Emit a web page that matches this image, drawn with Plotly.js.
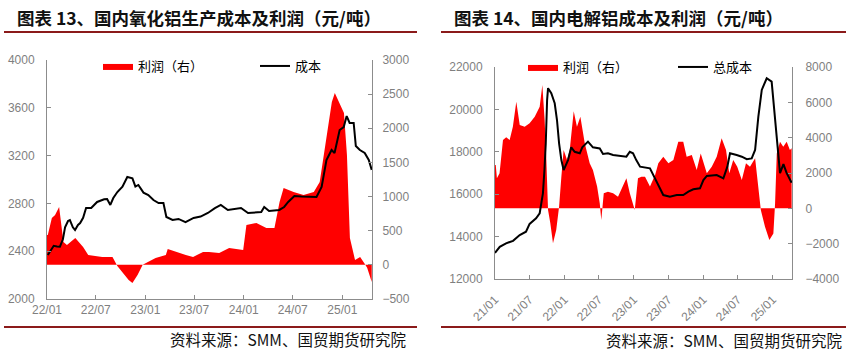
<!DOCTYPE html>
<html>
<head>
<meta charset="utf-8">
<script src="https://cdn.plot.ly/plotly-3.0.1.min.js"></script>
<style>html,body{margin:0;padding:0;background:#fff;}#chart{width:855px;height:357px;}</style>
</head>
<body>
<div id="chart"></div>
<script>
// ---------- Chart 13: alumina cost (left axis) & profit (right axis) ----------
const aluminaCostDates = ["2022-01-04","2022-01-19","2022-01-26","2022-02-07","2022-02-18","2022-03-01","2022-03-09","2022-03-20","2022-03-27","2022-04-07","2022-04-15","2022-04-26","2022-05-04","2022-05-15","2022-05-26","2022-06-14","2022-07-06","2022-08-01","2022-08-12","2022-08-24","2022-09-04","2022-09-19","2022-10-08","2022-10-26","2022-11-14","2022-11-25","2022-12-06","2022-12-25","2023-01-12","2023-01-31","2023-02-19","2023-03-09","2023-03-20","2023-04-12","2023-05-04","2023-05-30","2023-06-29","2023-07-25","2023-08-21","2023-09-16","2023-10-08","2023-11-03","2023-11-29","2023-12-22","2024-01-17","2024-02-16","2024-03-06","2024-03-17","2024-04-04","2024-05-12","2024-05-30","2024-06-14","2024-07-07","2024-08-02","2024-09-08","2024-09-27","2024-10-16","2024-11-03","2024-11-22","2024-12-03","2024-12-22","2025-01-06","2025-01-17","2025-01-28","2025-02-12","2025-02-20","2025-03-07","2025-03-25","2025-04-09","2025-04-17","2025-04-20"];
const aluminaCost = [2368,2420,2445,2440,2438,2500,2600,2653,2661,2600,2578,2620,2636,2680,2762,2762,2812,2835,2837,2787,2845,2895,2940,3021,3010,2940,2954,2890,2870,2828,2803,2803,2686,2661,2670,2644,2678,2690,2720,2760,2787,2745,2755,2762,2720,2725,2728,2770,2737,2745,2770,2812,2862,2858,2855,2854,2937,3163,3247,3222,3414,3439,3531,3473,3473,3280,3247,3222,3163,3105,3080];

const aluminaProfitDates = ["2022-01-01","2022-01-04","2022-01-19","2022-01-31","2022-02-15","2022-02-22","2022-03-03","2022-03-16","2022-04-16","2022-05-15","2022-06-03","2022-07-25","2022-09-01","2022-09-19","2022-10-31","2022-11-14","2022-12-03","2022-12-22","2023-02-08","2023-03-18","2023-03-25","2023-05-31","2023-06-27","2023-08-03","2023-08-25","2023-10-02","2023-11-08","2023-12-30","2024-01-11","2024-02-17","2024-03-25","2024-04-24","2024-05-13","2024-05-28","2024-07-04","2024-08-10","2024-09-17","2024-10-09","2024-10-24","2024-11-04","2024-11-23","2024-12-04","2024-12-19","2025-01-07","2025-01-18","2025-01-29","2025-02-17","2025-03-08","2025-03-23","2025-04-03","2025-04-20"];
const aluminaProfit = [438,438,687,731,848,628,336,292,394,262,145,116,116,-15,-221,-265,-148,0,101,145,233,145,116,189,189,175,248,219,584,614,540,540,921,1126,1068,1024,1068,1214,1609,1946,2385,2517,2385,2224,1609,394,72,116,29,-44,-250];

// ---------- Chart 14: electrolytic aluminium total cost (left axis) & profit (right axis) ----------
const smeltCostDates = ["2021-01-01","2021-01-26","2021-02-28","2021-04-06","2021-05-11","2021-06-13","2021-07-02","2021-08-05","2021-08-24","2021-08-31","2021-09-10","2021-09-18","2021-09-25","2021-10-02","2021-10-07","2021-10-24","2021-11-11","2021-11-23","2021-12-04","2021-12-16","2021-12-28","2022-01-20","2022-02-06","2022-02-24","2022-03-23","2022-04-05","2022-05-05","2022-05-31","2022-07-06","2022-07-23","2022-08-18","2022-09-14","2022-10-19","2022-11-23","2022-12-11","2022-12-28","2023-01-14","2023-02-03","2023-03-27","2023-04-14","2023-05-10","2023-06-05","2023-07-10","2023-08-15","2023-09-18","2023-10-15","2023-11-10","2023-12-15","2024-01-02","2024-01-20","2024-03-12","2024-04-16","2024-05-07","2024-05-21","2024-06-25","2024-07-22","2024-08-17","2024-09-12","2024-09-30","2024-10-17","2024-11-04","2024-11-30","2024-12-26","2025-01-13","2025-01-25","2025-02-08","2025-02-26","2025-03-15","2025-04-10"];
const smeltCost = [13230,13520,13683,13800,14075,14230,14600,14863,15100,15580,16040,17140,18400,20440,21000,20760,20290,19500,18400,17610,17140,17610,18210,18000,17930,18210,18480,18210,18160,17900,17930,17850,17800,17770,18000,17930,17610,17300,17220,16900,16430,15960,15880,15960,15960,16120,16230,16280,16670,16860,16900,16750,17300,17930,17850,17770,17650,17690,18090,19660,20920,21470,21310,19500,18090,16990,17420,16990,16540];

const smeltProfitDates = ["2021-01-01","2021-01-05","2021-01-11","2021-01-25","2021-02-12","2021-03-01","2021-03-19","2021-04-05","2021-04-23","2021-05-11","2021-06-06","2021-07-02","2021-07-29","2021-08-24","2021-09-07","2021-09-19","2021-09-28","2021-10-07","2021-10-19","2021-11-02","2021-11-19","2021-12-04","2021-12-16","2021-12-28","2022-01-15","2022-01-29","2022-02-19","2022-03-08","2022-03-26","2022-04-18","2022-05-14","2022-05-31","2022-06-22","2022-07-06","2022-07-14","2022-07-27","2022-08-18","2022-09-14","2022-10-10","2022-11-05","2022-11-23","2022-12-11","2023-01-06","2023-01-23","2023-02-10","2023-03-01","2023-03-27","2023-04-23","2023-05-10","2023-06-05","2023-07-02","2023-07-28","2023-08-23","2023-09-18","2023-10-06","2023-11-02","2023-11-28","2023-12-19","2024-01-20","2024-02-15","2024-03-12","2024-04-07","2024-04-30","2024-05-17","2024-06-07","2024-06-28","2024-07-22","2024-08-13","2024-09-03","2024-09-30","2024-10-17","2024-10-30","2024-11-21","2024-12-14","2025-01-04","2025-01-13","2025-01-22","2025-02-08","2025-02-25","2025-03-15","2025-04-01","2025-04-10"];
const smeltProfit = [2453,2453,1700,1980,3870,4020,3870,4620,6040,4720,4620,4810,5190,5750,6980,5000,2730,-100,-850,-1980,-1230,90,1790,3300,2730,3300,5500,4620,5190,3680,2550,2170,1230,280,-660,850,940,850,660,1230,1700,850,-100,1700,1790,1790,1230,1890,2550,2920,2550,2730,3770,3770,2920,3020,2170,3110,1980,2360,2920,3960,3300,1980,2730,2360,1600,2550,2360,2830,1230,-100,-1040,-1790,-1420,280,3110,3770,3490,3770,3300,3400];

// ---------- labels ----------
const title13 = "图表 13、国内氧化铝生产成本及利润（元/吨）";
const title14 = "图表 14、国内电解铝成本及利润（元/吨）";
const sourceText = "资料来源：SMM、国贸期货研究院";
const profitName = "利润（右）";
const costName13 = "成本";
const costName14 = "总成本";

const W = 855, H = 357;
const px = v => v / W;
const py = v => 1 - v / H;

const red = "#FF0000";
const axisGrey = "#8c8c8c";
const tickFont = {family: "Liberation Sans, Arial, sans-serif", size: 12, color: "#7f7f7f"};
const legendFont = {family: "Noto Sans CJK SC, sans-serif", size: 13, color: "#000"};

// profit areas sit on the base axes, cost lines on the overlaying axes so the lines are drawn on top
const traces = [
  {x: aluminaProfitDates, y: aluminaProfit, name: profitName, type: "scatter", mode: "lines",
   fill: "tozeroy", fillcolor: red, line: {width: 0, color: red}, xaxis: "x", yaxis: "y", legend: "legend"},
  {x: aluminaCostDates, y: aluminaCost, name: costName13, type: "scatter", mode: "lines",
   line: {width: 2, color: "#000"}, xaxis: "x", yaxis: "y2", legend: "legend2"},
  {x: smeltProfitDates, y: smeltProfit, name: profitName, type: "scatter", mode: "lines",
   fill: "tozeroy", fillcolor: red, line: {width: 0, color: red}, xaxis: "x2", yaxis: "y3", legend: "legend3"},
  {x: smeltCostDates, y: smeltCost, name: costName14, type: "scatter", mode: "lines",
   line: {width: 2, color: "#000"}, xaxis: "x2", yaxis: "y4", legend: "legend4"}
];

const axBase = {showgrid: false, zeroline: false, showline: true, linecolor: axisGrey, linewidth: 1,
  ticks: "inside", ticklen: 4, tickcolor: axisGrey, tickfont: tickFont, fixedrange: true};

const legBase = {orientation: "h", xanchor: "left", yanchor: "middle", font: legendFont,
  bgcolor: "rgba(0,0,0,0)", borderwidth: 0};

const layout = {
  width: W, height: H,
  margin: {l: 0, r: 0, t: 0, b: 0},
  paper_bgcolor: "#fff", plot_bgcolor: "#fff",
  showlegend: true,
  xaxis: Object.assign({}, axBase, {type: "date", domain: [px(47), px(372)], anchor: "y",
    range: ["2022-01-01", "2025-04-21"], dtick: "M6", tick0: "2022-01-01", tickformat: "%y/%m", tickangle: 0}),
  yaxis: Object.assign({}, axBase, {domain: [py(299), py(60)], anchor: "x", side: "right",
    range: [-500, 3000], dtick: 500, tickformat: "d", ticklabelstandoff: 7}),
  yaxis2: Object.assign({}, axBase, {overlaying: "y", anchor: "x", side: "left",
    range: [2000, 4000], dtick: 400, tickformat: "d", ticklabelstandoff: 9}),
  xaxis2: Object.assign({}, axBase, {type: "date", domain: [px(495), px(792)], anchor: "y3",
    range: ["2021-01-01", "2025-04-12"], dtick: "M6", tick0: "2021-01-01", tickformat: "%y/%m", tickangle: -45,
    ticklabelstandoff: 8}),
  yaxis3: Object.assign({}, axBase, {domain: [py(279), py(67)], anchor: "x2", side: "right",
    range: [-4000, 8000], dtick: 2000, tickformat: "d", ticklabelstandoff: 10}),
  yaxis4: Object.assign({}, axBase, {overlaying: "y3", anchor: "x2", side: "left",
    range: [12000, 22000], dtick: 2000, tickformat: "d", ticklabelstandoff: 9}),
  legend: Object.assign({}, legBase, {x: px(98), y: py(66)}),
  legend2: Object.assign({}, legBase, {x: px(255), y: py(66)}),
  legend3: Object.assign({}, legBase, {x: px(523), y: py(67)}),
  legend4: Object.assign({}, legBase, {x: px(673), y: py(67)}),
  shapes: [
    {type: "line", xref: "paper", yref: "paper", x0: px(4), x1: px(417), y0: py(32), y1: py(32), line: {color: "#8B1A1A", width: 2}},
    {type: "line", xref: "paper", yref: "paper", x0: px(441), x1: px(846), y0: py(32), y1: py(32), line: {color: "#8B1A1A", width: 2}},
    {type: "line", xref: "paper", yref: "paper", x0: px(4), x1: px(417), y0: py(327), y1: py(327), line: {color: "#8B1A1A", width: 2}},
    {type: "line", xref: "paper", yref: "paper", x0: px(441), x1: px(846), y0: py(327), y1: py(327), line: {color: "#8B1A1A", width: 2}}
  ],
  annotations: [
    {text: title13, xref: "paper", yref: "paper", x: px(15), y: py(17), xanchor: "left", yanchor: "middle", showarrow: false,
     font: {family: "Noto Sans CJK SC, sans-serif", size: 17.5, weight: "bold", color: "#111"}},
    {text: title14, xref: "paper", yref: "paper", x: px(452), y: py(17), xanchor: "left", yanchor: "middle", showarrow: false,
     font: {family: "Noto Sans CJK SC, sans-serif", size: 17.5, weight: "bold", color: "#111"}},
    {text: sourceText, xref: "paper", yref: "paper", x: px(408), y: py(339), xanchor: "right", yanchor: "middle", showarrow: false,
     font: {family: "Noto Sans CJK SC, sans-serif", size: 15.5, color: "#111"}},
    {text: sourceText, xref: "paper", yref: "paper", x: px(844), y: py(340), xanchor: "right", yanchor: "middle", showarrow: false,
     font: {family: "Noto Sans CJK SC, sans-serif", size: 15.5, color: "#111"}}
  ]
};

Plotly.newPlot("chart", traces, layout, {displayModeBar: false, staticPlot: true});
</script>
</body>
</html>
